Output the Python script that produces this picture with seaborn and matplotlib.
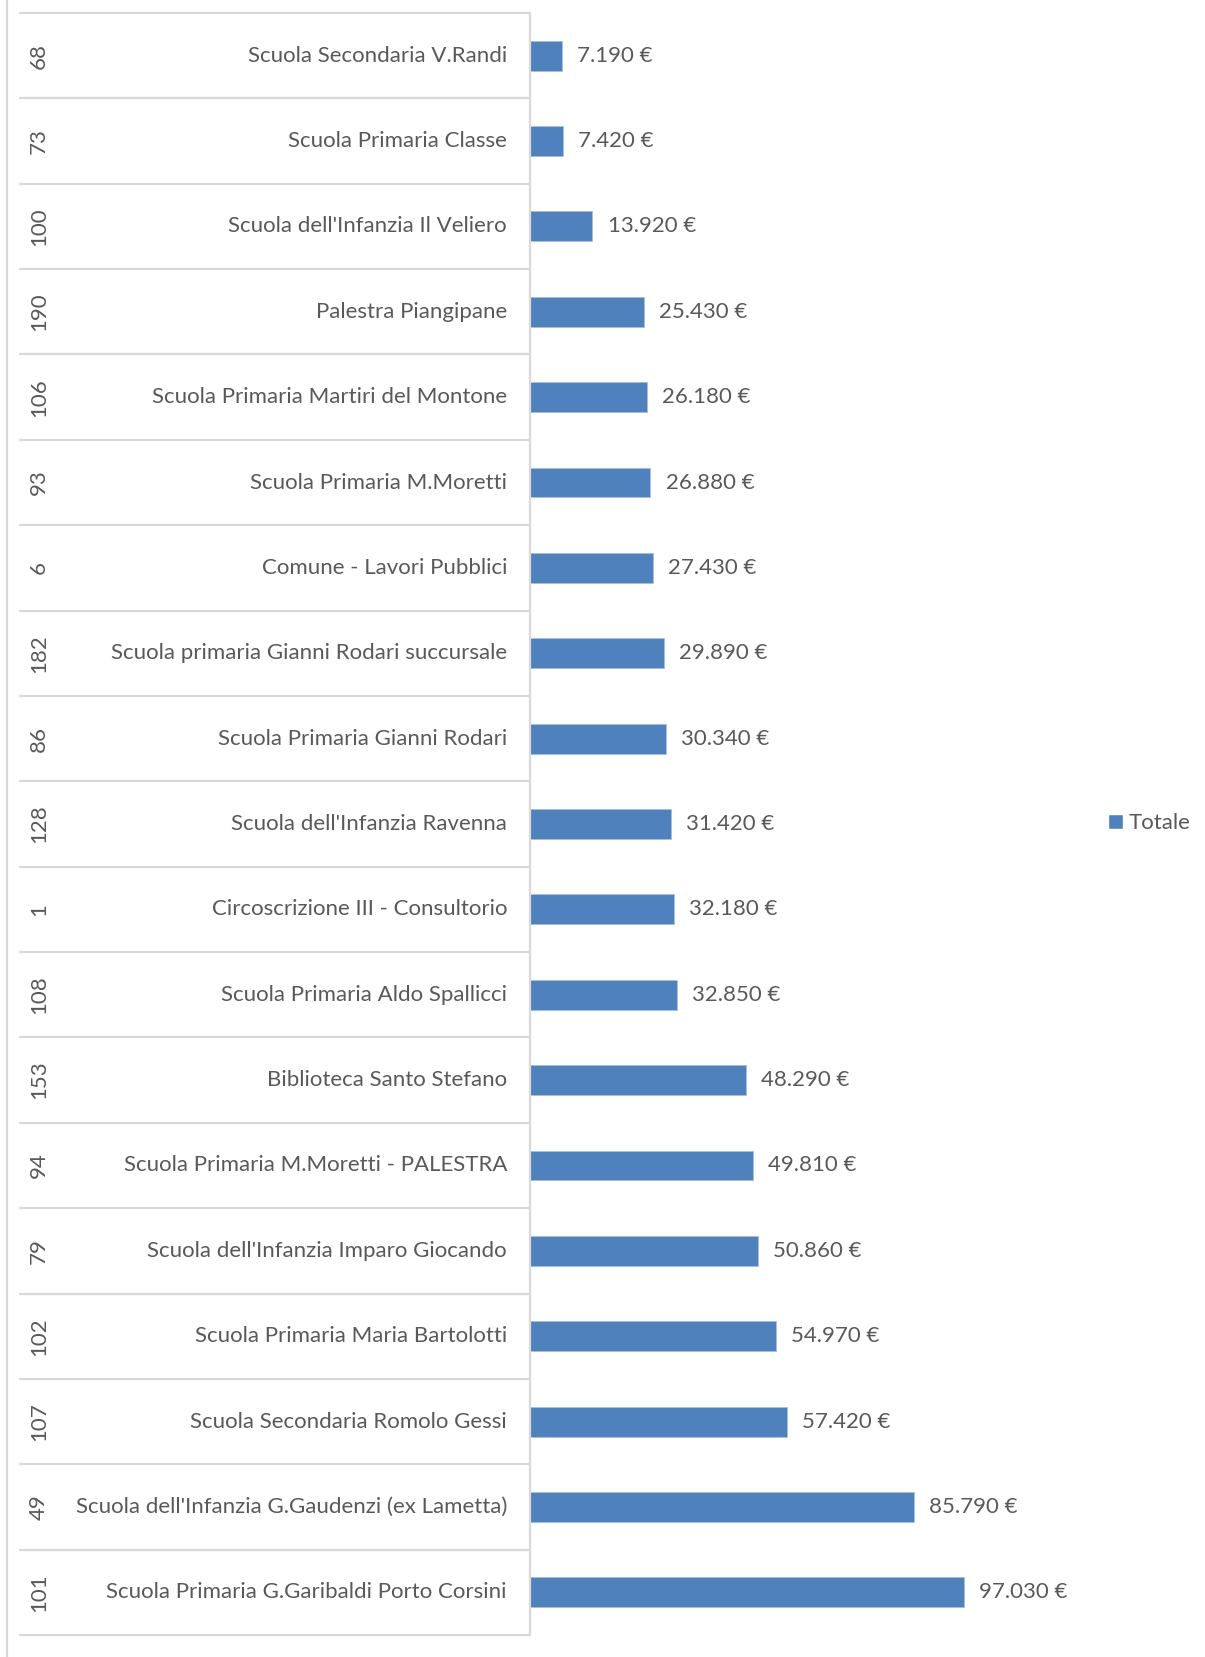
import matplotlib
matplotlib.use('Agg')
import matplotlib.pyplot as plt
import matplotlib.transforms as mtransforms
from matplotlib.lines import Line2D
from matplotlib.patches import Patch
import pandas as pd
import seaborn as sns

# dati (dall'alto verso il basso)
ids = ['68', '73', '100', '190', '106', '93', '6', '182', '86', '128',
       '1', '108', '153', '94', '79', '102', '107', '49', '101']
nomi = ['Scuola Secondaria V.Randi',
        'Scuola Primaria Classe',
        "Scuola dell'Infanzia Il Veliero",
        'Palestra Piangipane',
        'Scuola Primaria Martiri del Montone',
        'Scuola Primaria M.Moretti',
        'Comune - Lavori Pubblici',
        'Scuola primaria Gianni Rodari succursale',
        'Scuola Primaria Gianni Rodari',
        "Scuola dell'Infanzia Ravenna",
        'Circoscrizione III - Consultorio',
        'Scuola Primaria Aldo Spallicci',
        'Biblioteca Santo Stefano',
        'Scuola Primaria M.Moretti - PALESTRA',
        "Scuola dell'Infanzia Imparo Giocando",
        'Scuola Primaria Maria Bartolotti',
        'Scuola Secondaria Romolo Gessi',
        "Scuola dell'Infanzia G.Gaudenzi (ex Lametta)",
        'Scuola Primaria G.Garibaldi Porto Corsini']
totale = [7190, 7420, 13920, 25430, 26180, 26880, 27430, 29890, 30340, 31420,
          32180, 32850, 48290, 49810, 50860, 54970, 57420, 85790, 97030]

df = pd.DataFrame({'id': ids, 'nome': nomi, 'Totale': totale})

sns.set_style('white')
plt.rcParams['font.family'] = ['Lato', 'DejaVu Sans']

BLU = '#4F81BD'
GRIGIO = '#595959'
LINEA = '#D9D9D9'
FS = 16

fig = plt.figure(figsize=(12.05, 16.57), dpi=100)
W, H = 1205, 1657
x0, x1 = 530 / W, 1067 / W
y_top, y_bot = 1 - 13 / H, 1 - 1635 / H
ax = fig.add_axes([x0, y_bot, x1 - x0, y_top - y_bot])

sns.barplot(data=df, x='Totale', y='nome', orient='h', color=BLU,
            width=0.35, edgecolor='#A7C0DE', linewidth=0.6, saturation=1, ax=ax)

ax.set_xlim(0, 120000)
ax.set_ylim(len(ids) - 0.5, -0.5)
ax.set_xlabel('')
ax.set_ylabel('')
ax.set_xticks([])
ax.set_yticks([])
for s in ax.spines.values():
    s.set_visible(False)

# etichette dati
etichette = [f'{v:,}'.replace(',', '.') + ' €' for v in totale]
ax.bar_label(ax.containers[0], labels=etichette, padding=11,
             fontsize=FS, color=GRIGIO)

# asse categorie a due livelli
trans = mtransforms.blended_transform_factory(fig.transFigure, ax.transData)
for i, (cid, nome) in enumerate(zip(ids, nomi)):
    fig.text(507 / W, i, nome, transform=trans, ha='right', va='center',
             fontsize=FS, color=GRIGIO)
    fig.text(39 / W, i, cid, transform=trans, ha='center', va='center',
             rotation=90, fontsize=FS, color=GRIGIO)

for k in range(len(ids) + 1):
    yy = k - 0.5
    fig.add_artist(Line2D([20 / W, x0], [yy, yy], transform=trans,
                          color=LINEA, lw=1.6))
fig.add_artist(Line2D([x0, x0], [y_bot, y_top], transform=fig.transFigure,
                      color=LINEA, lw=1.6))
fig.add_artist(Line2D([7.5 / W, 7.5 / W], [0, 1], transform=fig.transFigure,
                      color=LINEA, lw=1.6))

# legenda
fig.legend(handles=[Patch(facecolor=BLU, label='Totale')],
           loc='center left', bbox_to_anchor=(1108 / W, 1 - 823 / H),
           frameon=False, fontsize=FS, labelcolor=GRIGIO,
           borderaxespad=0, borderpad=0,
           handlelength=0.68, handleheight=0.68, handletextpad=0.25)

fig.savefig('out.png', dpi=100)
